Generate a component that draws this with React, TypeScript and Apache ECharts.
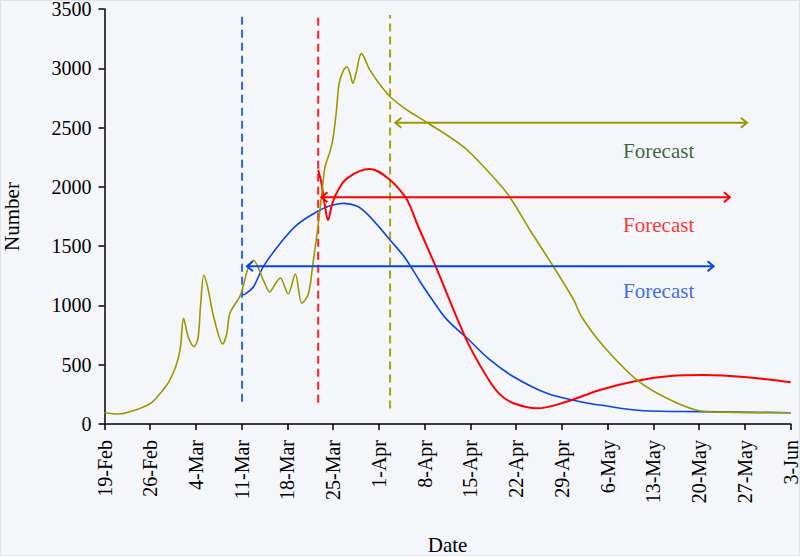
import React, { useEffect, useRef } from "react";
import * as echarts from "echarts";

// Day offsets from 19-Feb (x), values (y)
const dateLabels = [
  "19-Feb", "26-Feb", "4-Mar", "11-Mar", "18-Mar", "25-Mar", "1-Apr", "8-Apr",
  "15-Apr", "22-Apr", "29-Apr", "6-May", "13-May", "20-May", "27-May", "3-Jun",
];
const yTicks = [0, 500, 1000, 1500, 2000, 2500, 3000, 3500];

const oliveSeries: [number, number][] = [
  [0, 95], [2.1, 84], [4, 105], [7, 172], [9, 290], [10, 371], [11, 500], [11.6, 640],
  [12.1, 891], [12.8, 736], [13.7, 652], [14.3, 720], [14.7, 1000], [15.2, 1254],
  [15.8, 1150], [16.7, 905], [18.1, 675], [18.7, 760], [19.2, 936], [20.7, 1074],
  [21.2, 1158], [22.0, 1320], [22.8, 1380], [24.3, 1214], [25.3, 1113], [26.0, 1170],
  [26.9, 1231], [28.1, 1096], [29.2, 1265], [30.2, 1018], [31.2, 1096], [31.9, 1355],
  [32.6, 1636], [33.2, 1917], [33.75, 2170], [34.5, 2297], [35.0, 2420], [35.5, 2648],
  [35.9, 2873], [36.6, 2986], [37.1, 3013], [37.6, 2950], [38.0, 2873], [38.5, 2960],
  [39.3, 3126], [40.6, 2986], [42.2, 2859], [43.7, 2760], [46.3, 2648], [49.3, 2545],
  [54.9, 2339], [58.5, 2142], [61.8, 1931], [65.1, 1636], [68.7, 1327], [71.8, 1046],
  [73, 905], [76.3, 660], [81.5, 371], [86.6, 202], [91.2, 110], [95, 100], [105, 95],
];

const redSeries: [number, number][] = [
  [32.7, 2142], [33.2, 2030], [33.75, 1833], [34.2, 1720], [34.8, 1847], [35.5, 1946],
  [37.1, 2072], [40.6, 2151], [43.7, 2058], [46.0, 1917], [46.8, 1833], [47.8, 1693],
  [50.9, 1299], [55.4, 708], [58.5, 399], [60.5, 250], [62.6, 175], [66.2, 132],
  [70.7, 188], [75.8, 287], [81.5, 365], [86.6, 405], [91.7, 413], [98.3, 394], [105, 352],
];

const blueSeries: [number, number][] = [
  [21.05, 1088], [21.5, 1095], [22.8, 1158], [24.3, 1327], [26.9, 1524], [29.4, 1678],
  [32.5, 1790], [34.5, 1840], [36.6, 1861], [38.6, 1839], [40.1, 1777], [42.2, 1650],
  [43.7, 1552], [46, 1400], [48.3, 1200], [50, 1060], [52.4, 880], [55.5, 723],
  [59, 540], [62.6, 399], [67.7, 259], [72.8, 188], [75.8, 160], [82.5, 112],
  [91.2, 104], [105, 95],
];

// vertical dashed markers: [day, bottom, top]
const blueMarker: [number, number, number] = [21.05, 188, 3450];
const redMarker: [number, number, number] = [32.7, 180, 3450];
const oliveMarker: [number, number, number] = [43.7, 130, 3450];

// forecast arrows: [fromDay, toDay, value]
const oliveArrow: [number, number, number] = [44.5, 98.3, 2540];
const redArrow: [number, number, number] = [33.2, 95.7, 1912];
const blueArrow: [number, number, number] = [21.8, 93.2, 1330];

// forecast labels: [centerDay, value]
const oliveLabel: [number, number] = [84.8, 2300];
const redLabel: [number, number] = [84.8, 1681];
const blueLabel: [number, number] = [84.8, 1123];

const FONT = "Liberation Serif";
const OLIVE = "#999900";
const RED = "#ff0000";
const BLUE = "#0a44e6";

function arrowSeries(arrow: [number, number, number], color: string) {
  return {
    type: "custom",
    silent: true,
    z: 3,
    encode: { x: [0, 1], y: 2 },
    data: [arrow],
    renderItem: (params: any, api: any) => {
      const y = api.value(2);
      const p1 = api.coord([api.value(0), y]);
      const p2 = api.coord([api.value(1), y]);
      const st = { stroke: color, lineWidth: 2, fill: "none" };
      return {
        type: "group",
        children: [
          { type: "line", shape: { x1: p1[0], y1: p1[1], x2: p2[0], y2: p2[1] }, style: st },
          {
            type: "polyline",
            shape: { points: [[p1[0] + 6, p1[1] - 5], [p1[0], p1[1]], [p1[0] + 6, p1[1] + 5]] },
            style: st,
          },
          {
            type: "polyline",
            shape: { points: [[p2[0] - 6, p2[1] - 5], [p2[0], p2[1]], [p2[0] - 6, p2[1] + 5]] },
            style: st,
          },
        ],
      };
    },
  };
}

function markerSeries(m: [number, number, number], color: string) {
  return {
    type: "line",
    silent: true,
    symbol: "none",
    z: 1,
    data: [[m[0], m[1]], [m[0], m[2]]],
    lineStyle: { color, width: 2, type: [8, 5] },
  };
}

function labelSeries(l: [number, number], color: string) {
  return {
    type: "scatter",
    silent: true,
    symbolSize: 0,
    data: [l],
    label: {
      show: true,
      position: "inside",
      formatter: "Forecast",
      color,
      fontFamily: FONT,
      fontSize: 21,
    },
  };
}

export default function App() {
  const ref = useRef<HTMLDivElement>(null);
  useEffect(() => {
    if (!ref.current) return;
    const chart = echarts.init(ref.current, null, { renderer: "svg" });
    chart.setOption({
      animation: false,
      backgroundColor: "#f5f6fa",
      textStyle: { fontFamily: FONT },
      grid: {
        left: 104.5,
        right: 9.3,
        top: 9,
        bottom: 132,
        containLabel: false,
        outerBoundsMode: "none",
      },
      graphic: [
        {
          type: "rect",
          shape: { x: 0.5, y: 0.5, width: 799, height: 555 },
          style: { fill: "none", stroke: "#dfe2e8", lineWidth: 1 },
          silent: true,
        },
      ],
      xAxis: {
        type: "value",
        min: 0,
        max: 105,
        interval: 7,
        name: "Date",
        nameLocation: "middle",
        nameGap: 110,
        nameTextStyle: { color: "#000", fontSize: 21, fontFamily: FONT },
        axisLine: { show: true, onZero: false, lineStyle: { color: "#000", width: 1.5 } },
        axisTick: { show: true, length: 6, lineStyle: { color: "#000", width: 1.5 } },
        splitLine: { show: false },
        axisLabel: {
          rotate: 90,
          margin: 16,
          color: "#000",
          fontSize: 20,
          fontFamily: FONT,
          formatter: (v: number) => dateLabels[Math.round(v / 7)] ?? "",
        },
      },
      yAxis: {
        type: "value",
        min: yTicks[0],
        max: yTicks[yTicks.length - 1],
        interval: 500,
        name: "Number",
        nameLocation: "middle",
        nameGap: 82,
        nameTextStyle: { color: "#000", fontSize: 21, fontFamily: FONT },
        axisLine: { show: true, lineStyle: { color: "#000", width: 1.5 } },
        axisTick: { show: true, length: 6, lineStyle: { color: "#000", width: 1.5 } },
        splitLine: { show: false },
        axisLabel: {
          margin: 13,
          color: "#000",
          fontSize: 20,
          fontFamily: FONT,
          formatter: (v: number) => String(v),
        },
      },
      series: [
        markerSeries(blueMarker, "#2a68e8"),
        markerSeries(redMarker, "#ff2020"),
        markerSeries(oliveMarker, "#a8a510"),
        {
          type: "line",
          symbol: "none",
          smooth: 0.35,
          z: 2,
          data: blueSeries,
          lineStyle: { color: BLUE, width: 1.6 },
        },
        {
          type: "line",
          symbol: "none",
          smooth: 0.35,
          z: 2,
          data: redSeries,
          lineStyle: { color: RED, width: 2 },
        },
        {
          type: "line",
          symbol: "none",
          smooth: 0.3,
          z: 2,
          data: oliveSeries,
          lineStyle: { color: OLIVE, width: 1.6 },
        },
        arrowSeries(oliveArrow, OLIVE),
        arrowSeries(redArrow, RED),
        arrowSeries(blueArrow, BLUE),
        labelSeries(oliveLabel, "#0b3d0b"),
        labelSeries(redLabel, RED),
        labelSeries(blueLabel, BLUE),
      ],
    });
    return () => chart.dispose();
  }, []);
  return (
    <div
      ref={ref}
      style={{ position: "absolute", left: 0, top: 0, width: 800, height: 556 }}
    />
  );
}
